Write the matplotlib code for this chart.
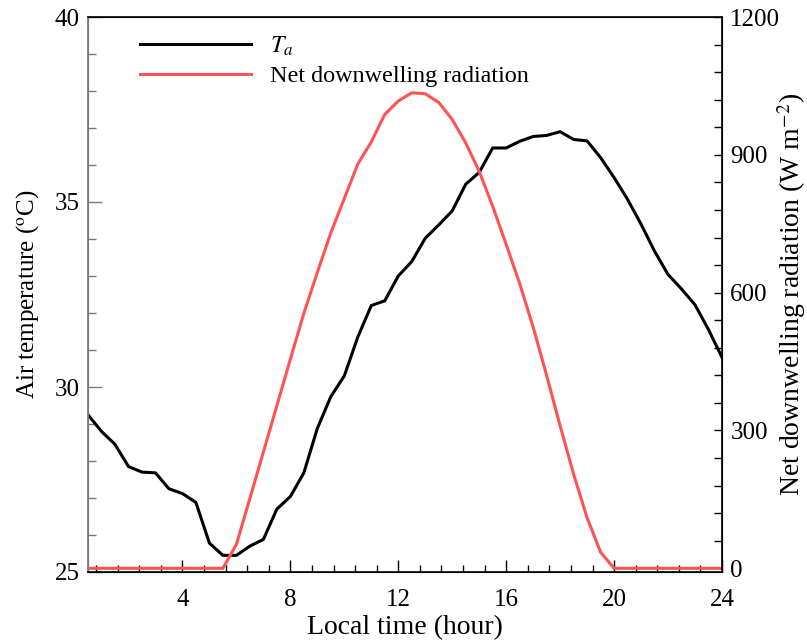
import matplotlib
matplotlib.use('Agg')
import matplotlib.pyplot as plt
from matplotlib.ticker import MultipleLocator

plt.rcParams['font.family'] = ['Liberation Serif', 'DejaVu Serif']
plt.rcParams['mathtext.fontset'] = 'stix'
plt.rcParams['font.size'] = 18

# half-hourly diurnal cycle
hours = [0.5 * i for i in range(1, 49)]
air_temp = [29.25, 28.8, 28.45, 27.85, 27.7, 27.68, 27.25, 27.12, 26.88, 25.78,
            25.45, 25.45, 25.7, 25.88, 26.7, 27.04, 27.68, 28.88, 29.74, 30.3,
            31.35, 32.2, 32.33, 33.0, 33.39, 34.02, 34.38, 34.76, 35.48, 35.8,
            36.46, 36.46, 36.64, 36.77, 36.8, 36.9, 36.69, 36.65, 36.2, 35.66,
            35.07, 34.4, 33.67, 33.04, 32.65, 32.22, 31.55, 30.8]
net_rad = [0, 0, 0, 0, 0, 0, 0, 0, 0, 0, 0,
           52, 152, 253, 354, 455, 555, 644, 730, 805, 880, 928, 988, 1017,
           1035, 1033, 1014, 977, 926, 864, 788, 705, 620, 525, 420, 310, 205,
           110, 35,
           0, 0, 0, 0, 0, 0, 0, 0, 0]

fig = plt.figure(figsize=(8.07, 6.4), dpi=100)
ax = fig.add_axes([88 / 807, 1 - 572 / 640, 634 / 807, 555 / 640])
ax2 = ax.twinx()

l1, = ax.plot(hours, air_temp, color='black', lw=2.2, label='$T_a$')
l2, = ax2.plot(hours, net_rad, color='#ff5252', lw=2.2,
               label='Net downwelling radiation')

ax.set_xlim(0.5, 24)
ax.set_ylim(25, 40)
ax2.set_ylim(-8, 1200)

ax.xaxis.set_major_locator(MultipleLocator(4))
ax.xaxis.set_minor_locator(MultipleLocator(0.8))
ax.yaxis.set_major_locator(MultipleLocator(5))
ax.yaxis.set_minor_locator(MultipleLocator(1))
ax2.yaxis.set_major_locator(MultipleLocator(300))
ax2.yaxis.set_minor_locator(MultipleLocator(60))

ax.tick_params(axis='x', which='major', direction='in', length=8.5, width=1,
               pad=12, top=False)
ax.tick_params(axis='x', which='minor', direction='in', length=5, width=1,
               top=False)
ax.tick_params(axis='y', which='major', direction='in', length=10, width=1,
               color='#777777', pad=6)
ax.tick_params(axis='y', which='minor', direction='in', length=6, width=1,
               color='#777777')
ax2.tick_params(axis='y', which='both', direction='in', length=6, width=1,
                pad=6)
ax.spines['left'].set_color('#777777')
ax2.spines['left'].set_color('#777777')
for sp in ax2.spines.values():
    sp.set_linewidth(1.2)

ax.set_xlabel('Local time (hour)', fontsize=20, labelpad=3)
ax.set_ylabel('Air temperature ($^{\\rm o}$C)', fontsize=18, labelpad=10)
ax2.set_ylabel('Net downwelling radiation (W m$^{-2}$)', fontsize=20,
               labelpad=-4)

ax2.legend(handles=[l1, l2], loc='upper left', bbox_to_anchor=(0.082, 0.968),
           frameon=False, handlelength=4.6, handletextpad=0.8,
           labelspacing=0.3, borderpad=0, borderaxespad=0, fontsize=17.4)

fig.savefig('out.png', dpi=100)
